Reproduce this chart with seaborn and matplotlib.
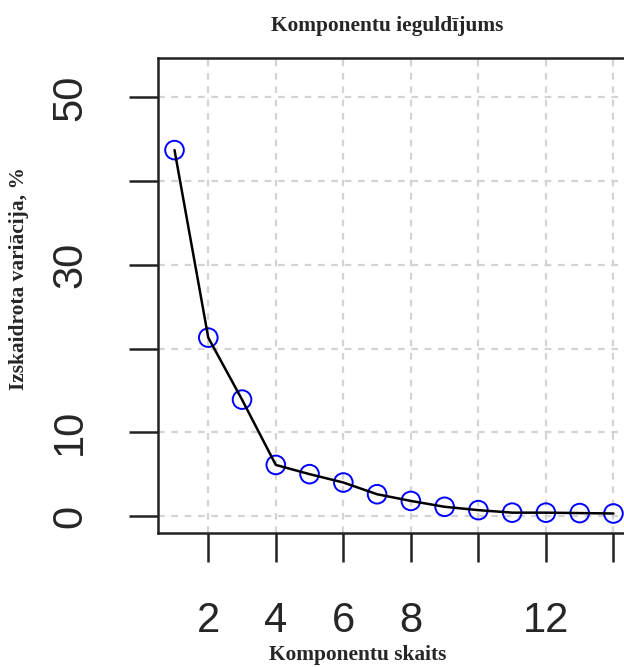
import numpy as np
import pandas as pd
import matplotlib
matplotlib.use("Agg")
import matplotlib.pyplot as plt
import seaborn as sns

# dati nolasīti no attēla
komponentes = list(range(1, 15))
variacija = [43.7, 21.3, 13.9, 6.1, 5.0, 4.0, 2.6, 1.8, 1.1, 0.7, 0.4, 0.4, 0.35, 0.3]
x_ticks = [2, 4, 6, 8, 10, 12, 14]
x_labels = ["2", "4", "6", "8", "", "12", ""]
y_ticks = [0, 10, 20, 30, 40, 50]
y_labels = ["0", "10", "", "30", "", "50"]

df = pd.DataFrame({"komp": komponentes, "var": variacija})

sns.set_style("white")
plt.rcParams["font.family"] = ["Liberation Sans", "DejaVu Sans"]

fig = plt.figure(figsize=(6.24, 6.67), dpi=100)
ax = fig.add_axes([158.3 / 624, 134 / 667, (631 - 158.3) / 624, (533 - 58) / 667])

# režģis
for gx in x_ticks:
    ax.axvline(gx, color="#d3d3d3", lw=1.6, ls=(0, (3, 3)), zorder=0)
for gy in y_ticks:
    ax.axhline(gy, color="#d3d3d3", lw=1.6, ls=(0, (3, 3)), zorder=0)

sns.scatterplot(data=df, x="komp", y="var", ax=ax, s=180, marker="o",
                facecolor="none", edgecolor="#0000ff", linewidth=1.4, zorder=2)
sns.lineplot(data=df, x="komp", y="var", ax=ax, color="black", lw=1.8, zorder=3)

ax.set_xlim(0.52, 14.52)
ax.set_ylim(-2.03, 54.7)

ax.set_xticks(x_ticks)
ax.set_xticklabels(x_labels, fontsize=30)
ax.set_yticks(y_ticks)
ax.set_yticklabels(y_labels, fontsize=30, rotation=90, va="center")
ax.tick_params(axis="both", length=21, width=1.8, color="#222222", pad=28,
               left=True, bottom=True)

for side in ["left", "bottom", "top"]:
    ax.spines[side].set_color("#222222")
    ax.spines[side].set_linewidth(1.8)
ax.spines["right"].set_visible(False)

ax.set_xlabel("")
ax.set_ylabel("")
serif = dict(family="Liberation Serif", fontweight="bold", fontsize=15.4)
fig.text(358 / 624, 1 - 655 / 667, "Komponentu skaits", ha="center", va="center", **serif)
fig.text(19 / 624, 1 - 279 / 667, "Izskaidrota variācija, %", ha="center", va="center",
         rotation=90, **serif)
fig.text(387 / 624, 1 - 26 / 667, "Komponentu ieguldījums", ha="center", va="center", **serif)

fig.savefig("out.png", dpi=100)
